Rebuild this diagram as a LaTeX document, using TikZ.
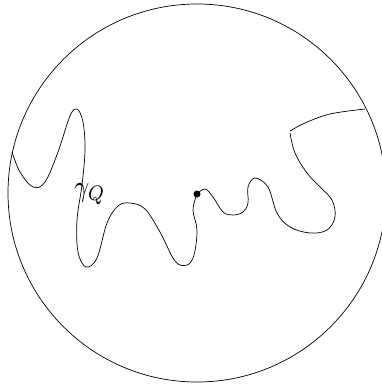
\documentclass[tikz,border=0pt]{standalone}
\usepackage{graphicx}
\begin{document}
\begin{tikzpicture}[x=1pt,y=-1pt,line width=0.7pt,
  curve/.style={smooth,tension=0.6}]
\useasboundingbox (0,0) rectangle (382,385);
\draw (197,193) circle (189);
\draw plot[curve] coordinates {(12,152) (20,172) (33,187) (45,182) (58,152) (70,116) (77,109) (83,122) (85,150) (82,185) (77,220) (78,252) (86,267) (97,258) (107,223) (118,206) (130,203) (145,209) (160,232) (175,261) (187,265) (194,255) (197,230) (193,210) (197,194)};
\draw plot[curve] coordinates {(197,194) (205,189) (213,197) (223,212) (233,215) (243,212) (248,203) (248,187) (255,178) (268,187) (277,213) (290,227) (310,233) (327,230) (335,217) (332,200) (320,187) (307,173) (295,153) (290,133)};
\draw plot[curve] coordinates {(290,131) (305,123) (330,114) (365,109)};
\node[circle,fill,inner sep=0pt,minimum size=7pt] (dot) at (197,194) {};
\node[inner sep=0pt] (lab) at (90,194) {\scalebox{2.6}[3]{$\gamma_Q$}};
\end{tikzpicture}
\end{document}
